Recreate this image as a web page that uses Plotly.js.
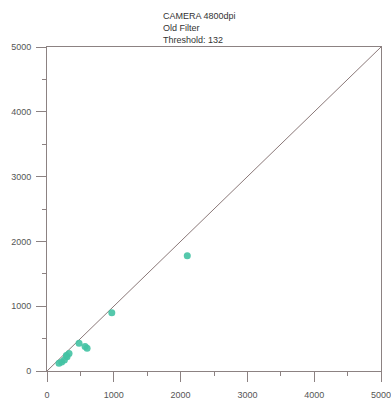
<!DOCTYPE html>
<html><head><meta charset="utf-8">
<script src="https://cdn.plot.ly/plotly-3.0.1.min.js"></script>
<style>html,body{margin:0;padding:0;background:#fff;}#c{width:391px;height:401px;}</style>
</head><body><div id="c"></div>
<script>
var xVals = [2100, 970, 480, 570, 600, 330, 300, 260, 220, 180, 290];
var yVals = [1780, 900, 430, 380, 350, 270, 220, 170, 140, 120, 240];
var refLine = [0, 5000];
var tickVals = [0, 1000, 2000, 3000, 4000, 5000];
var titleLines = ["CAMERA 4800dpi", "Old Filter", "Threshold: 132"];

var axisColor = '#8c8282';
function ax() {
  return {
    range: [0, 5000], tickvals: tickVals, ticktext: tickVals.map(String),
    showgrid: false, zeroline: false, showline: true, linecolor: axisColor, linewidth: 1,
    mirror: true, ticks: 'outside', ticklen: 10, tickcolor: axisColor, tickwidth: 1,
    minor: {ticks: 'outside', ticklen: 4, dtick: 500, tick0: 0, tickcolor: axisColor},
    tickfont: {family: 'Liberation Sans, Arial', size: 9, color: '#555'},
    ticklabeloverflow: 'allow',
    fixedrange: true
  };
}
var xa = ax(); xa.ticklabelstandoff = 5;
var ya = ax(); ya.ticklabelstandoff = 3;

Plotly.newPlot('c', [
  {x: refLine, y: refLine, mode: 'lines', line: {color: '#8a7878', width: 1}, hoverinfo: 'skip'},
  {x: xVals, y: yVals, mode: 'markers', marker: {color: '#42c2a3', size: 7, opacity: 0.9}}
], {
  width: 391, height: 401,
  margin: {l: 47, r: 10, t: 47, b: 30},
  showlegend: false,
  paper_bgcolor: '#fff', plot_bgcolor: '#fff',
  title: {text: titleLines.join('<br>'), x: 0.417, xanchor: 'left', y: 0.952, yanchor: 'top',
          font: {family: 'Liberation Sans, Arial', size: 9, color: '#333'}},
  xaxis: xa, yaxis: ya
}, {staticPlot: true});
</script></body></html>
